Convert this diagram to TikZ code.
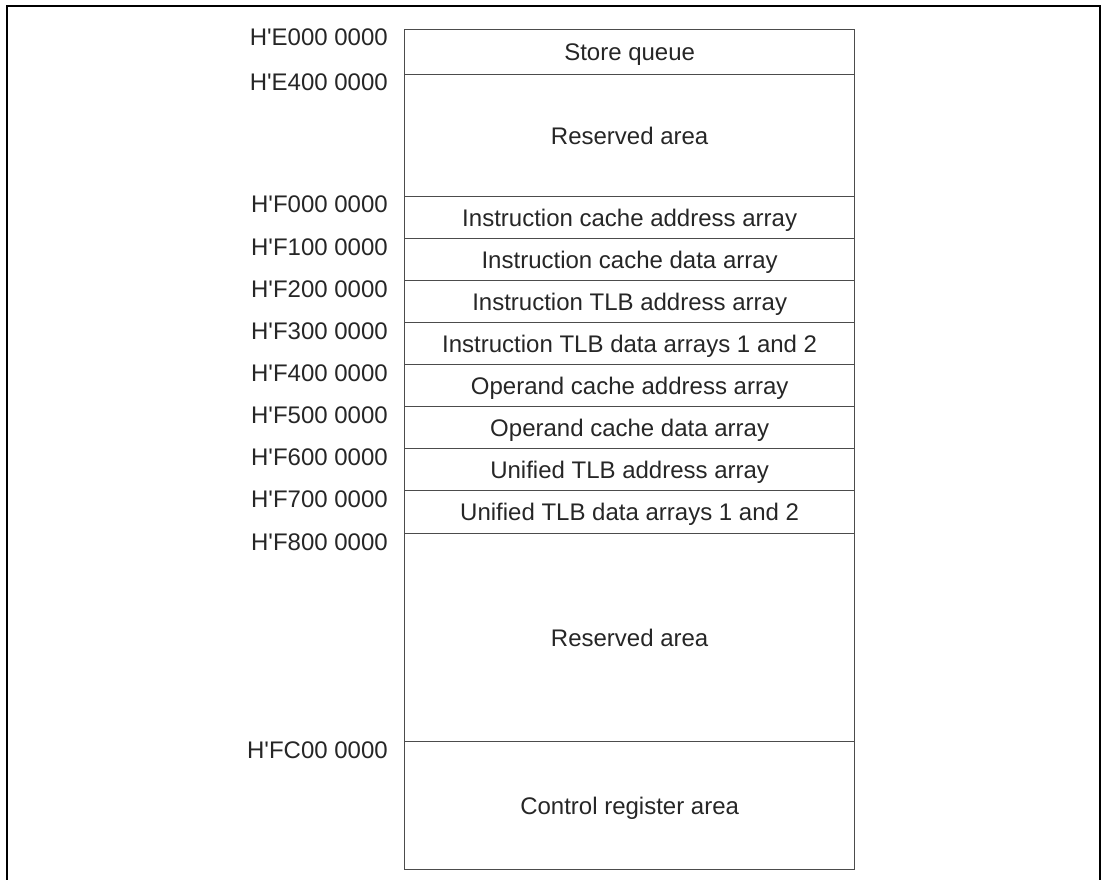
\documentclass[tikz,border=0pt]{standalone}
\usepackage{fontspec}
\setmainfont{Liberation Sans}[Ligatures=TeXOff]
\begin{document}
\begin{tikzpicture}[x=1pt,y=-1pt,
  txt/.style={font=\fontsize{24}{28}\selectfont, text=black!85},
  region/.style={txt, draw=black!70, line width=1.3pt, minimum width=450pt,
    inner sep=0pt, anchor=north west, text height=17pt, text depth=0pt},
  addr/.style={txt, anchor=base east, inner sep=0pt}]
\useasboundingbox (0,0) rectangle (1104,880);
\coordinate (fbl) at (7,880);
\coordinate (ftl) at (7,6);
\coordinate (ftr) at (1100,6);
\coordinate (fbr) at (1100,880);
\draw[line width=2pt] (fbl) -- (ftl) -- (ftr) -- (fbr);

\node[region, minimum height=45pt]  (r1)  at (404,29)  {Store queue};
\node[region, minimum height=122pt] (r2)  at (404,74)  {Reserved area};
\node[region, minimum height=42pt]  (r3)  at (404,196) {Instruction cache address array};
\node[region, minimum height=42pt]  (r4)  at (404,238) {Instruction cache data array};
\node[region, minimum height=42pt]  (r5)  at (404,280) {Instruction TLB address array};
\node[region, minimum height=42pt]  (r6)  at (404,322) {Instruction TLB data arrays 1 and 2};
\node[region, minimum height=42pt]  (r7)  at (404,364) {Operand cache address array};
\node[region, minimum height=42pt]  (r8)  at (404,406) {Operand cache data array};
\node[region, minimum height=42pt]  (r9)  at (404,448) {Unified TLB address array};
\node[region, minimum height=43pt]  (r10) at (404,490) {Unified TLB data arrays 1 and 2};
\node[region, minimum height=208pt] (r11) at (404,533) {Reserved area};
\node[region, minimum height=128pt] (r12) at (404,741) {Control register area};

\node[addr] (a1)  at (388,46)  {H'E000 0000};
\node[addr] (a2)  at (388,91)  {H'E400 0000};
\node[addr] (a3)  at (388,213) {H'F000 0000};
\node[addr] (a4)  at (388,255) {H'F100 0000};
\node[addr] (a5)  at (388,297) {H'F200 0000};
\node[addr] (a6)  at (388,339) {H'F300 0000};
\node[addr] (a7)  at (388,381) {H'F400 0000};
\node[addr] (a8)  at (388,423) {H'F500 0000};
\node[addr] (a9)  at (388,465) {H'F600 0000};
\node[addr] (a10) at (388,507) {H'F700 0000};
\node[addr] (a11) at (388,550) {H'F800 0000};
\node[addr] (a12) at (388,758) {H'FC00 0000};
\end{tikzpicture}
\end{document}
